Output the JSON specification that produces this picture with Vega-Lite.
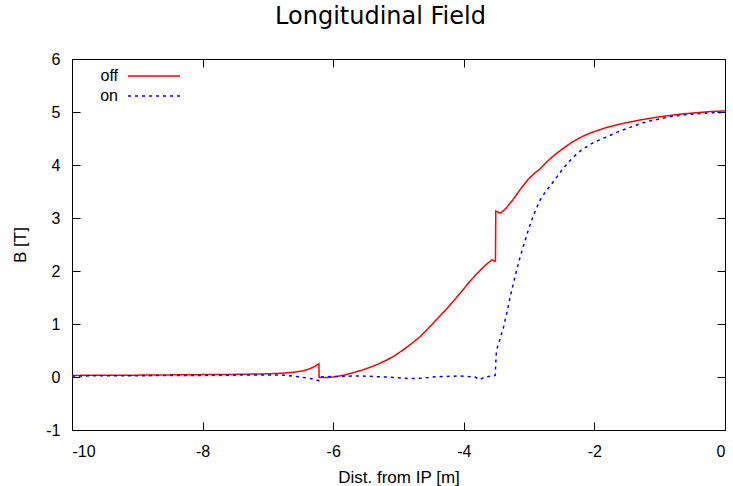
{
  "$schema": "https://vega.github.io/schema/vega-lite/v6.json",
  "width": 653,
  "height": 371,
  "autosize": "none",
  "padding": {"left": 72, "top": 59, "right": 8, "bottom": 56},
  "background": "white",
  "title": {"text": "Longitudinal Field", "font": "DejaVu Sans", "fontSize": 24, "fontWeight": "normal", "color": "black", "anchor": "middle", "offset": 20, "dx": -18},
  "config": {
    "view": {"stroke": "black", "strokeWidth": 1},
    "axis": {"domain": false, "grid": false, "tickColor": "black", "tickSize": -8, "tickWidth": 1, "labelFont": "Liberation Sans", "labelFontSize": 16, "labelColor": "black", "titleFont": "Liberation Sans", "titleFontSize": 17, "titleFontWeight": "normal", "titleColor": "black", "labelExpr": "'' + datum.value"},
    "legend": {"title": null, "orient": "none", "legendX": 55, "symbolType": "stroke", "symbolSize": 2700, "symbolStrokeWidth": 1.5, "labelFont": "Liberation Sans", "labelFontSize": 16, "labelColor": "black", "labelAlign": "right", "labelOffset": -63}
  },
  "datasets": {
    "curves": [
      {"x": -10, "B": 0.03, "s": "off"},
      {"x": -9, "B": 0.035, "s": "off"},
      {"x": -8, "B": 0.045, "s": "off"},
      {"x": -7.5, "B": 0.05, "s": "off"},
      {"x": -7, "B": 0.06, "s": "off"},
      {"x": -6.8, "B": 0.07, "s": "off"},
      {"x": -6.6, "B": 0.09, "s": "off"},
      {"x": -6.45, "B": 0.12, "s": "off"},
      {"x": -6.35, "B": 0.16, "s": "off"},
      {"x": -6.28, "B": 0.2, "s": "off"},
      {"x": -6.22, "B": 0.25, "s": "off"},
      {"x": -6.215, "B": -0.01, "s": "off"},
      {"x": -6.1, "B": -0.01, "s": "off"},
      {"x": -6.0, "B": 0.0, "s": "off"},
      {"x": -5.9, "B": 0.02, "s": "off"},
      {"x": -5.8, "B": 0.045, "s": "off"},
      {"x": -5.7, "B": 0.08, "s": "off"},
      {"x": -5.57, "B": 0.125, "s": "off"},
      {"x": -5.44, "B": 0.18, "s": "off"},
      {"x": -5.31, "B": 0.245, "s": "off"},
      {"x": -5.18, "B": 0.32, "s": "off"},
      {"x": -5.05, "B": 0.41, "s": "off"},
      {"x": -4.93, "B": 0.51, "s": "off"},
      {"x": -4.8, "B": 0.63, "s": "off"},
      {"x": -4.67, "B": 0.76, "s": "off"},
      {"x": -4.55, "B": 0.91, "s": "off"},
      {"x": -4.42, "B": 1.08, "s": "off"},
      {"x": -4.29, "B": 1.25, "s": "off"},
      {"x": -4.16, "B": 1.43, "s": "off"},
      {"x": -4.03, "B": 1.62, "s": "off"},
      {"x": -3.91, "B": 1.8, "s": "off"},
      {"x": -3.8, "B": 1.95, "s": "off"},
      {"x": -3.71, "B": 2.06, "s": "off"},
      {"x": -3.65, "B": 2.13, "s": "off"},
      {"x": -3.6, "B": 2.18, "s": "off"},
      {"x": -3.57, "B": 2.21, "s": "off"},
      {"x": -3.545, "B": 2.2, "s": "off"},
      {"x": -3.525, "B": 2.18, "s": "off"},
      {"x": -3.515, "B": 2.19, "s": "off"},
      {"x": -3.51, "B": 3.13, "s": "off"},
      {"x": -3.49, "B": 3.12, "s": "off"},
      {"x": -3.46, "B": 3.1, "s": "off"},
      {"x": -3.43, "B": 3.1, "s": "off"},
      {"x": -3.39, "B": 3.14, "s": "off"},
      {"x": -3.35, "B": 3.19, "s": "off"},
      {"x": -3.25, "B": 3.34, "s": "off"},
      {"x": -3.14, "B": 3.53, "s": "off"},
      {"x": -3.02, "B": 3.72, "s": "off"},
      {"x": -2.93, "B": 3.83, "s": "off"},
      {"x": -2.83, "B": 3.93, "s": "off"},
      {"x": -2.72, "B": 4.07, "s": "off"},
      {"x": -2.6, "B": 4.2, "s": "off"},
      {"x": -2.46, "B": 4.33, "s": "off"},
      {"x": -2.33, "B": 4.44, "s": "off"},
      {"x": -2.18, "B": 4.54, "s": "off"},
      {"x": -2.05, "B": 4.61, "s": "off"},
      {"x": -1.93, "B": 4.66, "s": "off"},
      {"x": -1.81, "B": 4.71, "s": "off"},
      {"x": -1.65, "B": 4.76, "s": "off"},
      {"x": -1.5, "B": 4.8, "s": "off"},
      {"x": -1.3, "B": 4.85, "s": "off"},
      {"x": -1.15, "B": 4.88, "s": "off"},
      {"x": -1.0, "B": 4.91, "s": "off"},
      {"x": -0.8, "B": 4.94, "s": "off"},
      {"x": -0.65, "B": 4.965, "s": "off"},
      {"x": -0.5, "B": 4.98, "s": "off"},
      {"x": -0.35, "B": 4.995, "s": "off"},
      {"x": -0.2, "B": 5.01, "s": "off"},
      {"x": 0, "B": 5.02, "s": "off"},
      {"x": -10, "B": 0.02, "s": "on"},
      {"x": -9, "B": 0.025, "s": "on"},
      {"x": -8, "B": 0.03, "s": "on"},
      {"x": -7, "B": 0.04, "s": "on"},
      {"x": -6.8, "B": 0.04, "s": "on"},
      {"x": -6.5, "B": 0.0, "s": "on"},
      {"x": -6.3, "B": -0.04, "s": "on"},
      {"x": -6.22, "B": -0.07, "s": "on"},
      {"x": -6.2, "B": 0.0, "s": "on"},
      {"x": -6.0, "B": 0.01, "s": "on"},
      {"x": -5.6, "B": 0.02, "s": "on"},
      {"x": -5.2, "B": 0.0, "s": "on"},
      {"x": -4.82, "B": -0.03, "s": "on"},
      {"x": -4.6, "B": -0.02, "s": "on"},
      {"x": -4.5, "B": 0.0, "s": "on"},
      {"x": -4.06, "B": 0.02, "s": "on"},
      {"x": -3.83, "B": 0.0, "s": "on"},
      {"x": -3.75, "B": -0.05, "s": "on"},
      {"x": -3.68, "B": 0.0, "s": "on"},
      {"x": -3.55, "B": 0.02, "s": "on"},
      {"x": -3.52, "B": 0.03, "s": "on"},
      {"x": -3.5, "B": 0.5, "s": "on"},
      {"x": -3.45, "B": 0.7, "s": "on"},
      {"x": -3.39, "B": 0.95, "s": "on"},
      {"x": -3.34, "B": 1.22, "s": "on"},
      {"x": -3.29, "B": 1.51, "s": "on"},
      {"x": -3.24, "B": 1.77, "s": "on"},
      {"x": -3.19, "B": 2.02, "s": "on"},
      {"x": -3.14, "B": 2.25, "s": "on"},
      {"x": -3.09, "B": 2.46, "s": "on"},
      {"x": -3.02, "B": 2.74, "s": "on"},
      {"x": -2.96, "B": 2.96, "s": "on"},
      {"x": -2.9, "B": 3.15, "s": "on"},
      {"x": -2.83, "B": 3.34, "s": "on"},
      {"x": -2.74, "B": 3.51, "s": "on"},
      {"x": -2.65, "B": 3.65, "s": "on"},
      {"x": -2.5, "B": 3.9, "s": "on"},
      {"x": -2.4, "B": 4.05, "s": "on"},
      {"x": -2.33, "B": 4.14, "s": "on"},
      {"x": -2.2, "B": 4.28, "s": "on"},
      {"x": -2.05, "B": 4.4, "s": "on"},
      {"x": -1.93, "B": 4.47, "s": "on"},
      {"x": -1.81, "B": 4.53, "s": "on"},
      {"x": -1.65, "B": 4.62, "s": "on"},
      {"x": -1.5, "B": 4.69, "s": "on"},
      {"x": -1.3, "B": 4.78, "s": "on"},
      {"x": -1.15, "B": 4.83, "s": "on"},
      {"x": -1.0, "B": 4.87, "s": "on"},
      {"x": -0.8, "B": 4.92, "s": "on"},
      {"x": -0.6, "B": 4.95, "s": "on"},
      {"x": -0.4, "B": 4.97, "s": "on"},
      {"x": -0.2, "B": 4.985, "s": "on"},
      {"x": 0, "B": 4.99, "s": "on"}
    ]
  },
  "data": {"name": "curves"},
  "resolve": {"axis": {"x": "independent", "y": "independent"}},
  "layer": [
    {
      "mark": {"type": "line", "strokeWidth": 1.5, "clip": true},
      "encoding": {
        "x": {"field": "x", "type": "quantitative", "scale": {"domain": [-10, 0], "nice": false, "zero": false}, "axis": {"title": "Dist. from IP [m]", "values": [-10, -8, -6, -4, -2, 0], "labelPadding": 21, "titlePadding": 10}},
        "y": {"field": "B", "type": "quantitative", "scale": {"domain": [-1, 6], "nice": false, "zero": false}, "axis": {"title": "B [T]", "values": [-1, 0, 1, 2, 3, 4, 5, 6], "labelPadding": 20, "titlePadding": 16}},
        "color": {"field": "s", "type": "nominal", "scale": {"domain": ["off", "on"], "range": ["#ff0000", "#0000ff"]},
          "legend": {"values": ["off"], "legendY": -10}},
        "strokeDash": {"field": "s", "type": "nominal", "scale": {"domain": ["on", "off"], "range": [[3, 4], [1, 0]]},
          "legend": {"values": ["on"], "legendY": 10, "symbolStrokeColor": "#0000ff"}}
      }
    },
    {
      "mark": {"type": "line", "opacity": 0},
      "encoding": {
        "x": {"field": "x", "type": "quantitative", "axis": {"orient": "top", "labels": false, "title": null, "values": [-10, -8, -6, -4, -2, 0]}},
        "y": {"field": "B", "type": "quantitative", "axis": {"orient": "right", "labels": false, "title": null, "values": [-1, 0, 1, 2, 3, 4, 5, 6]}},
        "detail": {"field": "s", "type": "nominal"}
      }
    }
  ]
}
